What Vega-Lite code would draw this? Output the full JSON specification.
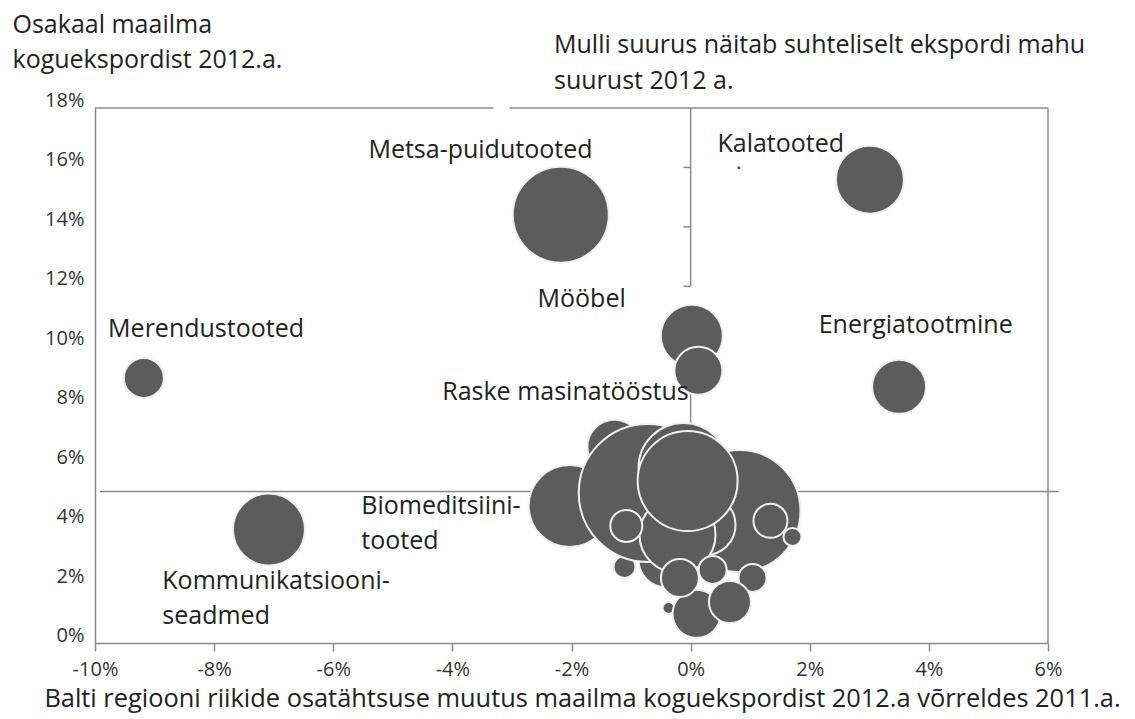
{
  "$schema": "https://vega.github.io/schema/vega-lite/v6.json",
  "autosize": {"type": "none"},
  "padding": {"left": 95, "top": 108, "right": 87, "bottom": 76},
  "width": 953,
  "height": 535,
  "background": "#ffffff",
  "config": {
    "view": {"stroke": null},
    "font": "Open Sans"
  },
  "title": {
    "text": ["Mulli suurus näitab suhteliselt ekspordi mahu", "suurust 2012 a."],
    "anchor": "start",
    "frame": "group",
    "orient": "top",
    "dx": 459,
    "offset": 0,
    "dy": 102,
    "baseline": "alphabetic",
    "lineHeight": 36,
    "font": "Open Sans",
    "fontSize": 25,
    "fontWeight": "normal",
    "color": "#222222"
  },
  "datasets": {
    "bubbles": [
      {"haru": "Metsa-puidutooted", "muutus": -2.18, "osakaal": 14.41, "maht": 2304},
      {"haru": "Kalatooted", "muutus": 3.01, "osakaal": 15.59, "maht": 1156},
      {"haru": "Mööbel", "muutus": 0.02, "osakaal": 10.34, "maht": 961},
      {"haru": "Mööbel 2", "muutus": 0.13, "osakaal": 9.16, "maht": 576},
      {"haru": "Merendustooted", "muutus": -9.18, "osakaal": 8.92, "maht": 400},
      {"haru": "Energiatootmine", "muutus": 3.5, "osakaal": 8.62, "maht": 729},
      {"haru": "Kommunikatsiooniseadmed", "muutus": -7.08, "osakaal": 3.82, "maht": 1296},
      {"haru": "Biomeditsiinitooted", "muutus": -2.03, "osakaal": 4.61, "maht": 1681},
      {"haru": "F", "muutus": -1.28, "osakaal": 6.6, "maht": 729},
      {"haru": "S4", "muutus": -1.11, "osakaal": 2.56, "maht": 121},
      {"haru": "P", "muutus": -0.42, "osakaal": 2.79, "maht": 729},
      {"haru": "E", "muutus": 0.82, "osakaal": 4.44, "maht": 3721},
      {"haru": "B", "muutus": -0.72, "osakaal": 5.05, "maht": 4761},
      {"haru": "G", "muutus": -0.12, "osakaal": 5.89, "maht": 2025},
      {"haru": "I", "muutus": 0.25, "osakaal": 3.97, "maht": 900},
      {"haru": "D", "muutus": -0.22, "osakaal": 3.64, "maht": 1444},
      {"haru": "C", "muutus": -0.05, "osakaal": 5.45, "maht": 2500},
      {"haru": "S1", "muutus": -1.08, "osakaal": 3.94, "maht": 256},
      {"haru": "S2", "muutus": 1.34, "osakaal": 4.11, "maht": 289},
      {"haru": "S3", "muutus": 1.71, "osakaal": 3.57, "maht": 81},
      {"haru": "N", "muutus": -0.37, "osakaal": 1.18, "maht": 36},
      {"haru": "M", "muutus": 0.1, "osakaal": 0.98, "maht": 576},
      {"haru": "H", "muutus": -0.18, "osakaal": 2.19, "maht": 361},
      {"haru": "J", "muutus": 0.37, "osakaal": 2.46, "maht": 196},
      {"haru": "K", "muutus": 1.04, "osakaal": 2.19, "maht": 196},
      {"haru": "L", "muutus": 0.66, "osakaal": 1.38, "maht": 441}
    ],
    "labels": [
      {"tekst": "Metsa-puidutooted", "muutus": -5.41, "osakaal": 16.33},
      {"tekst": "Kalatooted", "muutus": 0.45, "osakaal": 16.53},
      {"tekst": "Mööbel", "muutus": -2.57, "osakaal": 11.31},
      {"tekst": "Merendustooted", "muutus": -9.78, "osakaal": 10.3},
      {"tekst": "Energiatootmine", "muutus": 2.15, "osakaal": 10.44},
      {"tekst": "Raske masinatööstus", "muutus": -4.17, "osakaal": 8.18},
      {"tekst": "Biomeditsiini-", "muutus": -5.53, "osakaal": 4.34},
      {"tekst": "tooted", "muutus": -5.53, "osakaal": 3.16},
      {"tekst": "Kommunikatsiooni-", "muutus": -8.87, "osakaal": 1.82},
      {"tekst": "seadmed", "muutus": -8.87, "osakaal": 0.64}
    ],
    "lines": [
      {"muutus": -10, "muutus2": -3.31, "osakaal": 18, "osakaal2": 18},
      {"muutus": -3.04, "muutus2": 6, "osakaal": 18, "osakaal2": 18},
      {"muutus": 6, "muutus2": 6, "osakaal": 0, "osakaal2": 18},
      {"muutus": 0, "muutus2": 0, "osakaal": 12, "osakaal2": 18},
      {"muutus": -0.12, "muutus2": 0, "osakaal": 16, "osakaal2": 16},
      {"muutus": -0.12, "muutus2": 0, "osakaal": 14, "osakaal2": 14},
      {"muutus": -0.12, "muutus2": 0, "osakaal": 12, "osakaal2": 12},
      {"muutus": 0, "muutus2": 0, "osakaal": 5, "osakaal2": 8.45},
      {"muutus": -9.92, "muutus2": 6.18, "osakaal": 5.1, "osakaal2": 5.1}
    ],
    "dots": [
      {"muutus": 0.81, "osakaal": 15.99}
    ]
  },
  "layer": [
    {
      "data": {"name": "lines"},
      "mark": {"type": "rule", "color": "#8a8a8a", "strokeWidth": 1.5},
      "encoding": {
        "x": {
          "field": "muutus", "type": "quantitative",
          "scale": {"domain": [-10, 6], "nice": false, "zero": false},
          "axis": {
            "values": [-10, -8, -6, -4, -2, 0, 2, 4, 6],
            "labelExpr": "datum.value + '%'",
            "grid": false,
            "domainColor": "#8a8a8a", "domainWidth": 1.5,
            "ticks": true, "tickSize": 8, "tickColor": "#8a8a8a", "tickWidth": 1.5,
            "labelFont": "Open Sans", "labelFontSize": 20, "labelColor": "#333333", "labelPadding": 8,
            "labelFlush": false,
            "title": "Balti regiooni riikide osatähtsuse muutus maailma koguekspordist 2012.a võrreldes 2011.a.",
            "titleFont": "Open Sans", "titleFontSize": 25.4, "titleFontWeight": "normal", "titleColor": "#222222",
            "titleX": 487, "titleY": 63, "titleAlign": "center", "titleBaseline": "alphabetic"
          }
        },
        "x2": {"field": "muutus2"},
        "y": {
          "field": "osakaal", "type": "quantitative",
          "scale": {"domain": [0, 18], "nice": false},
          "axis": {
            "values": [0, 2, 4, 6, 8, 10, 12, 14, 16, 18],
            "labelExpr": "datum.value + '%'",
            "grid": false,
            "domainColor": "#8a8a8a", "domainWidth": 1.5,
            "ticks": false,
            "labelFont": "Open Sans", "labelFontSize": 20, "labelColor": "#333333", "labelPadding": 11,
            "labelOffset": -7.5, "labelFlush": false,
            "title": ["Osakaal maailma", "koguekspordist 2012.a."],
            "titleFont": "Open Sans", "titleFontSize": 25, "titleFontWeight": "normal", "titleColor": "#222222",
            "titleAngle": 0, "titleAlign": "left", "titleBaseline": "alphabetic",
            "titleX": -83, "titleY": -76, "titleLineHeight": 35
          }
        },
        "y2": {"field": "osakaal2"}
      }
    },
    {
      "data": {"name": "bubbles"},
      "mark": {"type": "point", "shape": "circle", "filled": true, "color": "#5c5c5c", "opacity": 1, "stroke": "#f0f0f0", "strokeWidth": 2},
      "encoding": {
        "x": {"field": "muutus", "type": "quantitative"},
        "y": {"field": "osakaal", "type": "quantitative"},
        "size": {"field": "maht", "type": "quantitative", "scale": {"type": "linear", "domain": [0, 5000], "range": [0, 20000]}, "legend": null}
      }
    },
    {
      "data": {"name": "dots"},
      "mark": {"type": "point", "shape": "circle", "filled": true, "color": "#555555", "size": 9, "opacity": 1},
      "encoding": {
        "x": {"field": "muutus", "type": "quantitative"},
        "y": {"field": "osakaal", "type": "quantitative"}
      }
    },
    {
      "data": {"name": "labels"},
      "mark": {"type": "text", "align": "left", "baseline": "alphabetic", "font": "Open Sans", "fontSize": 25, "color": "#222222"},
      "encoding": {
        "x": {"field": "muutus", "type": "quantitative"},
        "y": {"field": "osakaal", "type": "quantitative"},
        "text": {"field": "tekst"}
      }
    }
  ]
}
